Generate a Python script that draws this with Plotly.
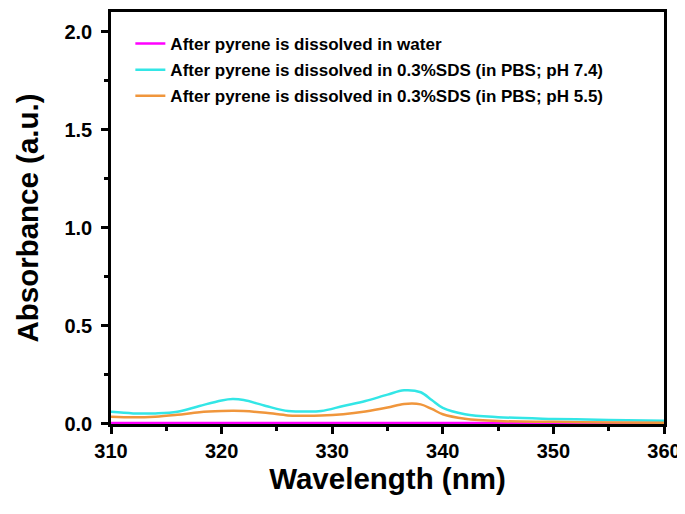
import plotly.graph_objects as go

wavelength = [310, 312, 314, 316, 318, 320, 321, 322, 324, 326, 327, 329, 331, 333, 335, 336.5, 338, 339, 340, 342, 345, 350, 355, 360]
water = [0.003] * len(wavelength)
sds_ph74 = [0.060, 0.052, 0.052, 0.060, 0.090, 0.118, 0.125, 0.120, 0.090, 0.064, 0.062, 0.064, 0.090, 0.115, 0.148, 0.170, 0.160, 0.120, 0.080, 0.048, 0.033, 0.024, 0.019, 0.015]
sds_ph55 = [0.035, 0.032, 0.035, 0.045, 0.058, 0.064, 0.065, 0.064, 0.055, 0.042, 0.040, 0.041, 0.048, 0.062, 0.082, 0.100, 0.098, 0.075, 0.048, 0.025, 0.013, 0.009, 0.006, 0.005]

names = [
    "After pyrene is dissolved in water",
    "After pyrene is dissolved in 0.3%SDS (in PBS; pH 7.4)",
    "After pyrene is dissolved in 0.3%SDS (in PBS; pH 5.5)",
]
colors = ["#ff00ff", "#33e6e6", "#f0963c"]

fig = go.Figure()
for i, (ys, nm, c) in enumerate(zip([water, sds_ph74, sds_ph55], names, colors)):
    fig.add_trace(go.Scatter(x=wavelength, y=ys, mode="lines", name=nm, legendgroup=f"g{i}",
                             line=dict(color=c, width=2.5, shape="spline", smoothing=1.0)))

axis_common = dict(
    showline=True, linecolor="black", linewidth=2.5, mirror=True,
    ticks="outside", tickcolor="black", tickwidth=2.5, ticklen=7,
    showgrid=False, zeroline=False, automargin=False,
    tickfont=dict(family="Liberation Sans", size=20, color="black", weight="bold"),
)

# page body has an 8px margin, so the figure is sized/offset to compensate
fig.update_layout(
    width=677, height=506,
    paper_bgcolor="white", plot_bgcolor="white",
    margin=dict(l=103, r=21, t=4, b=90),
    font=dict(family="Liberation Sans", color="black"),
    showlegend=True,
    legend=dict(x=0.035, y=0.966, xanchor="left", yanchor="top",
                bgcolor="rgba(0,0,0,0)", borderwidth=0,
                font=dict(family="Liberation Sans", size=17, color="black", weight="bold"),
                itemwidth=30, tracegroupgap=1),
)
fig.update_xaxes(range=[310, 360], dtick=10,
                 minor=dict(ticks="outside", dtick=5, ticklen=4, tickwidth=2.5, tickcolor="black"),
                 title=dict(text="Wavelength (nm)", standoff=8,
                            font=dict(family="Liberation Sans", size=29.5, color="black", weight="bold")),
                 **axis_common)
fig.update_yaxes(range=[-0.002, 2.1], dtick=0.5, tickformat=".1f",
                 minor=dict(ticks="outside", dtick=0.25, ticklen=4, tickwidth=2.5, tickcolor="black"),
                 ticklabelstandoff=5,
                 title=dict(text="Absorbance (a.u.)", standoff=18,
                            font=dict(family="Liberation Sans", size=29.5, color="black", weight="bold")),
                 **axis_common)

fig.write_html("out.html")
